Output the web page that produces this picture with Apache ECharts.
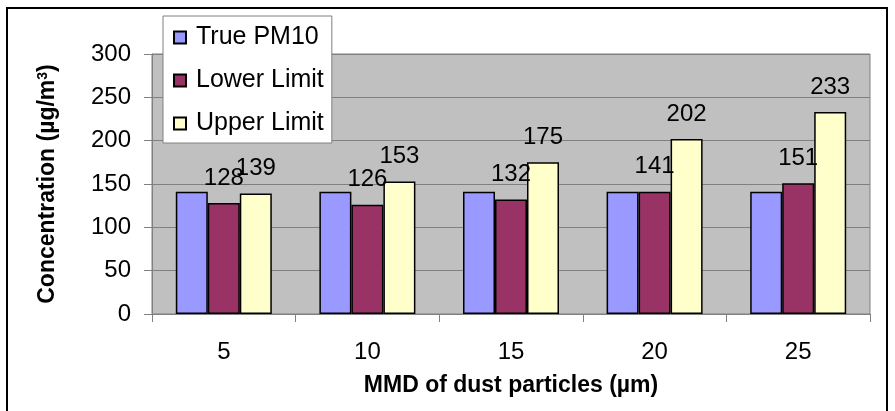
<!DOCTYPE html>
<html>
<head>
<meta charset="utf-8">
<script src="https://cdn.jsdelivr.net/npm/echarts@6/dist/echarts.min.js"></script>
<style>
html,body{margin:0;padding:0;background:#fff;}
#chart{width:895px;height:411px;}
</style>
</head>
<body>
<div id="chart"></div>
<script>
var categories = ['5', '10', '15', '20', '25'];
var truePM10 = [141, 141, 141, 141, 141];
var lowerLimit = [128, 126, 132, 141, 151];
var upperLimit = [139, 153, 175, 202, 233];
var yTicks = {min: 0, max: 300, interval: 50};

var FONT = '"Liberation Sans", Arial, sans-serif';
var chart = echarts.init(document.getElementById('chart'));

function barLabel(show) {
  return {
    show: show,
    position: 'top',
    distance: 13,
    color: '#000',
    fontFamily: FONT,
    fontSize: 24
  };
}

chart.setOption({
  animation: false,
  backgroundColor: '#fff',
  graphic: [{
    type: 'rect',
    shape: {x: 7, y: 8, width: 880, height: 420},
    style: {fill: 'none', stroke: '#000', lineWidth: 2},
    silent: true,
    z: -10
  }],
  legend: {
    orient: 'vertical',
    left: 163,
    top: 16,
    padding: [6, 8, 4, 10],
    itemGap: 12,
    itemWidth: 12,
    itemHeight: 12,
    backgroundColor: '#fff',
    borderColor: '#808080',
    borderWidth: 1,
    icon: 'rect',
    textStyle: {fontFamily: FONT, fontSize: 25, color: '#000', lineHeight: 31, padding: [0, 0, 0, 5]},
    data: ['True PM10', 'Lower Limit', 'Upper Limit']
  },
  grid: {
    left: 152,
    right: 25,
    top: 54,
    bottom: 97,
    show: true,
    backgroundColor: '#C0C0C0',
    borderColor: '#808080',
    borderWidth: 1,
    containLabel: false
  },
  xAxis: {
    type: 'category',
    data: categories,
    boundaryGap: true,
    name: 'MMD of dust particles (µm)',
    nameLocation: 'middle',
    nameGap: 60,
    nameTextStyle: {fontFamily: FONT, fontSize: 23, fontWeight: 'bold', color: '#000'},
    axisLine: {show: true, lineStyle: {color: '#808080', width: 1}},
    axisTick: {show: true, alignWithLabel: false, length: 8, lineStyle: {color: '#808080'}},
    axisLabel: {fontFamily: FONT, fontSize: 24, color: '#000', margin: 26},
    splitLine: {show: false}
  },
  yAxis: {
    type: 'value',
    min: yTicks.min,
    max: yTicks.max,
    interval: yTicks.interval,
    name: 'Concentration (µg/m{sup|3})',
    nameLocation: 'middle',
    nameGap: 93,
    nameTextStyle: {
      fontFamily: FONT, fontSize: 23, fontWeight: 'bold', color: '#000',
      rich: {sup: {fontFamily: FONT, fontSize: 14, fontWeight: 'bold', color: '#000', verticalAlign: 'top'}}
    },
    axisLine: {show: true, lineStyle: {color: '#808080', width: 1}},
    axisTick: {show: true, length: 8, lineStyle: {color: '#808080'}},
    axisLabel: {fontFamily: FONT, fontSize: 24, color: '#000', margin: 21},
    splitLine: {show: true, lineStyle: {color: '#808080', width: 1}}
  },
  series: [
    {
      name: 'True PM10', type: 'bar', data: truePM10,
      barWidth: 32, barGap: '0%',
      itemStyle: {color: '#9999FF', borderColor: '#000', borderWidth: 1.5},
      label: barLabel(false)
    },
    {
      name: 'Lower Limit', type: 'bar', data: lowerLimit,
      barWidth: 32, barGap: '0%',
      itemStyle: {color: '#993366', borderColor: '#000', borderWidth: 1.5},
      label: barLabel(true)
    },
    {
      name: 'Upper Limit', type: 'bar', data: upperLimit,
      barWidth: 32, barGap: '0%',
      itemStyle: {color: '#FFFFCC', borderColor: '#000', borderWidth: 1.5},
      label: barLabel(true)
    }
  ]
});
</script>
</body>
</html>
